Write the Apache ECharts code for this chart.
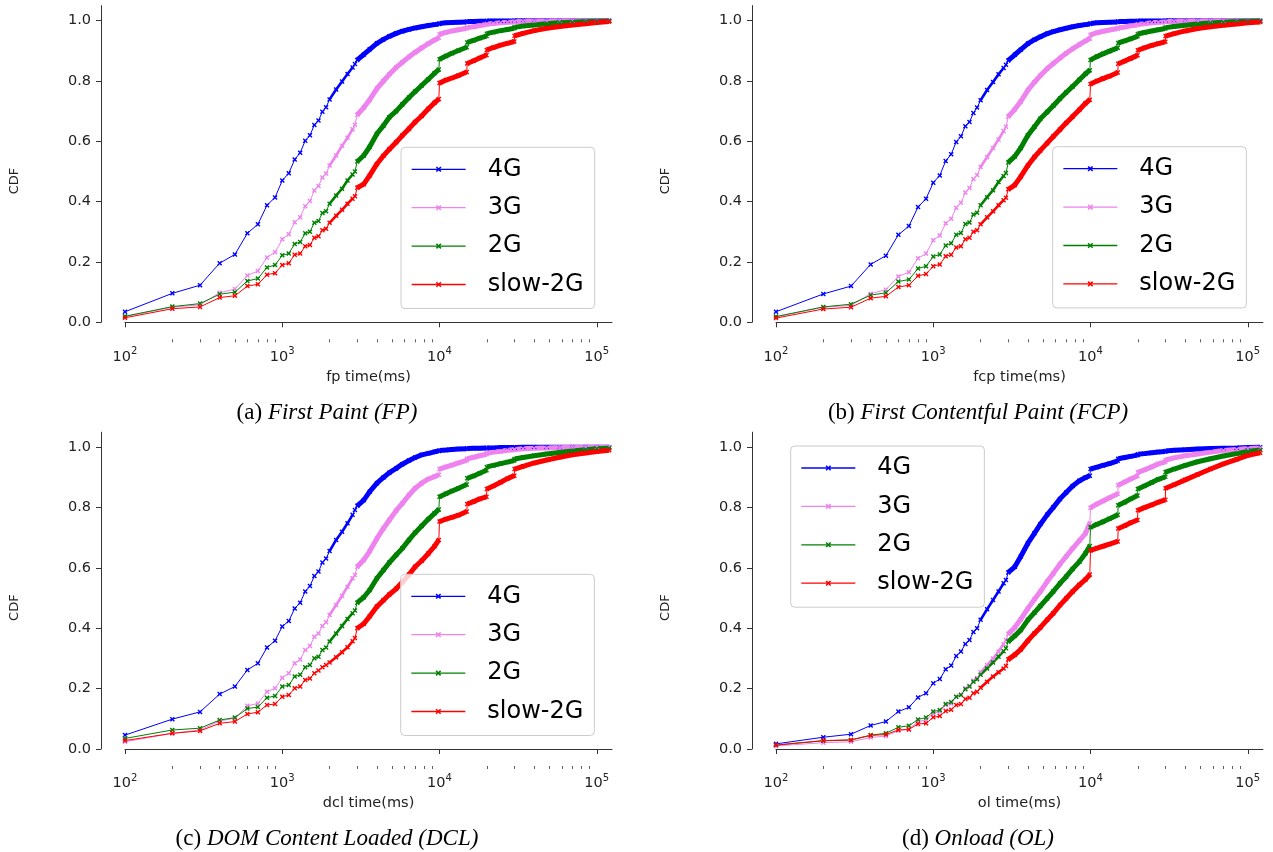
<!DOCTYPE html>
<html><head><meta charset="utf-8">
<script src="https://cdn.jsdelivr.net/npm/echarts@6/dist/echarts.min.js"></script>
<style>html,body{margin:0;padding:0;background:#fff}#chart{width:1273px;height:852px}</style>
</head><body><div id="chart"></div>
<script>
// ---------------- data ----------------
const xValues = [100,200,300,400,500,600,700,800,900,1000,
  1100,1200,1300,1400,1500,1600,1700,1800,1900,2000,
  2200,2400,2600,2800,2900,3000,3300,3600,4000,4400,
  4800,5300,5800,6400,7000,7700,8500,9300,9900,10000,
  11000,12000,13200,14900,15000,16500,18000,19900,20000,22000,
  24500,27000,29900,30000,34000,40000,48000,58000,70000,85000,
  100000,120000];

const seriesNames = ['4G','3G','2G','slow-2G'];
const axisNames = ['fp time(ms)','fcp time(ms)','dcl time(ms)','ol time(ms)'];
const captionTags = ['(a)','(b)','(c)','(d)'];
const captionTitles = ['First Paint (FP)','First Contentful Paint (FCP)','DOM Content Loaded (DCL)','Onload (OL)'];
const majorTickValues = [100,1000,10000,100000];
const minorTickValues = [200,300,400,500,600,700,800,900,2000,3000,4000,5000,6000,7000,8000,9000,20000,30000,40000,50000,60000,70000,80000,90000];
const yTickValues = [0,0.2,0.4,0.6,0.8,1.0];

const fp_4G = [.035,.096,.123,.196,.225,.295,.325,.388,.414,.470,
  .494,.540,.562,.602,.620,.654,.669,.698,.713,.739,
  .772,.798,.823,.845,.856,.870,.888,.905,.925,.938,
  .948,.958,.965,.971,.976,.980,.984,.987,.989,.991,
  .993,.994,.995,.996,.997,.997,.998,.998,.999,.999,
  .999,.999,.999,1,1,1,1,1,1,1,1,1];
const fp_3G = [.019,.050,.058,.098,.110,.155,.170,.215,.232,.275,
  .292,.332,.348,.385,.402,.437,.452,.480,.493,.520,
  .553,.585,.612,.640,.655,.688,.712,.738,.775,.800,
  .822,.845,.862,.880,.895,.910,.924,.936,.943,.955,
  .961,.966,.970,.975,.977,.980,.984,.987,.989,.991,
  .993,.995,.996,.997,.998,.999,.999,1,1,1,1,1];
const fp_2G = [.020,.052,.062,.093,.100,.137,.145,.182,.190,.222,
  .228,.260,.266,.295,.300,.330,.336,.362,.368,.393,
  .420,.443,.470,.490,.500,.533,.553,.582,.625,.652,
  .680,.700,.722,.745,.765,.785,.806,.826,.838,.872,
  .883,.892,.901,.912,.928,.935,.942,.949,.957,.962,
  .967,.971,.975,.978,.982,.986,.990,.993,.995,.997,.998,.999];
const fp_slow2G = [.015,.045,.051,.082,.088,.120,.126,.158,.163,.190,
  .196,.224,.228,.252,.256,.280,.285,.305,.310,.330,
  .353,.373,.393,.410,.418,.446,.458,.487,.525,.552,
  .574,.597,.619,.642,.664,.684,.708,.728,.740,.793,
  .803,.810,.818,.830,.858,.867,.876,.886,.903,.911,
  .919,.925,.931,.950,.958,.967,.975,.981,.986,.990,.994,.997];

const fcp_4G = [.035,.094,.120,.192,.221,.290,.319,.382,.410,.463,
  .487,.535,.557,.598,.617,.650,.664,.694,.712,.736,
  .770,.797,.822,.843,.854,.868,.887,.904,.924,.937,
  .947,.957,.964,.970,.975,.980,.984,.987,.989,.991,
  .993,.994,.995,.996,.997,.997,.998,.998,.999,.999,
  .999,.999,.999,1,1,1,1,1,1,1,1,1];
const fcp_3G = [.018,.050,.056,.095,.108,.152,.166,.212,.228,.272,
  .288,.328,.343,.380,.396,.430,.445,.475,.488,.515,
  .548,.578,.606,.634,.648,.682,.706,.732,.770,.796,
  .818,.841,.858,.876,.892,.907,.921,.933,.941,.953,
  .960,.965,.969,.974,.976,.979,.983,.986,.988,.990,
  .993,.995,.996,.997,.998,.999,.999,1,1,1,1,1];
const fcp_2G = [.019,.051,.060,.090,.098,.135,.142,.178,.186,.218,
  .225,.255,.262,.290,.296,.326,.331,.357,.363,.388,
  .415,.438,.465,.485,.495,.530,.550,.578,.620,.648,
  .675,.697,.718,.742,.762,.782,.804,.824,.836,.870,
  .881,.890,.899,.910,.926,.933,.940,.948,.956,.961,
  .966,.970,.974,.977,.981,.985,.989,.992,.995,.997,.998,.999];
const fcp_slow2G = [.014,.044,.050,.080,.086,.117,.123,.154,.160,.186,
  .192,.219,.224,.248,.252,.275,.280,.300,.305,.325,
  .348,.368,.388,.405,.413,.441,.455,.483,.520,.548,
  .570,.594,.616,.639,.661,.682,.705,.726,.738,.790,
  .800,.808,.816,.828,.857,.866,.875,.885,.902,.910,
  .918,.924,.930,.949,.957,.966,.974,.980,.985,.989,.993,.996];

const dcl_4G = [.046,.099,.123,.182,.207,.262,.284,.336,.359,.406,
  .424,.466,.485,.522,.540,.573,.588,.618,.631,.656,
  .693,.720,.748,.776,.792,.806,.825,.853,.881,.900,
  .916,.930,.944,.956,.966,.975,.980,.985,.988,.989,
  .991,.993,.994,.995,.996,.997,.997,.998,.998,.998,
  .999,.999,.999,.999,1,1,1,1,1,1,1,1];
const dcl_3G = [.024,.052,.063,.093,.102,.143,.151,.190,.201,.236,
  .251,.284,.297,.328,.341,.372,.383,.408,.420,.444,
  .477,.508,.538,.566,.577,.604,.627,.656,.698,.731,
  .759,.790,.814,.842,.864,.881,.895,.903,.909,.928,
  .935,.941,.948,.957,.962,.967,.972,.977,.980,.984,
  .987,.990,.992,.993,.995,.997,.998,.999,1,1,1,1];
const dcl_2G = [.035,.063,.069,.096,.104,.134,.139,.170,.176,.207,
  .212,.240,.246,.271,.278,.301,.306,.328,.336,.356,
  .383,.408,.431,.450,.459,.485,.503,.527,.566,.593,
  .618,.643,.665,.693,.717,.739,.762,.781,.794,.836,
  .846,.855,.864,.877,.897,.905,.914,.924,.935,.940,
  .946,.951,.956,.961,.966,.972,.978,.983,.988,.992,.995,.997];
const dcl_slow2G = [.028,.052,.060,.085,.091,.116,.122,.146,.149,.173,
  .179,.201,.207,.229,.234,.251,.260,.271,.278,.287,
  .304,.321,.337,.357,.368,.400,.415,.440,.472,.493,
  .512,.531,.553,.578,.604,.624,.648,.672,.693,.754,
  .762,.768,.775,.787,.812,.820,.829,.836,.862,.872,
  .884,.896,.906,.928,.937,.948,.958,.967,.975,.981,.986,.990];

const ol_4G = [.017,.039,.049,.078,.091,.124,.138,.171,.185,.218,
  .232,.264,.277,.308,.323,.348,.361,.388,.400,.428,
  .463,.494,.522,.549,.560,.585,.604,.638,.682,.715,
  .745,.776,.801,.829,.850,.872,.889,.900,.906,.928,
  .934,.940,.946,.955,.962,.966,.970,.974,.977,.979,
  .982,.984,.986,.988,.990,.992,.994,.996,.997,.998,.999,1];
const ol_3G = [.010,.021,.024,.038,.043,.061,.066,.091,.096,.118,
  .124,.146,.151,.173,.181,.201,.210,.227,.235,.254,
  .278,.300,.323,.348,.361,.381,.403,.430,.466,.496,
  .522,.555,.582,.613,.638,.665,.691,.715,.748,.800,
  .812,.822,.833,.846,.874,.885,.895,.905,.917,.925,
  .935,.945,.952,.958,.965,.972,.978,.984,.989,.993,.996,.998];
const ol_2G = [.013,.027,.030,.046,.052,.072,.077,.098,.104,.124,
  .129,.149,.156,.173,.179,.198,.207,.223,.231,.246,
  .267,.287,.306,.324,.334,.356,.375,.394,.428,.452,
  .474,.499,.522,.549,.571,.597,.621,.649,.673,.735,
  .745,.753,.763,.776,.808,.818,.829,.840,.862,.872,
  .883,.894,.902,.918,.928,.940,.952,.962,.971,.979,.986,.991];
const ol_slow2G = [.013,.028,.030,.045,.048,.063,.065,.083,.085,.105,
  .109,.126,.130,.146,.149,.166,.170,.185,.190,.203,
  .223,.240,.254,.267,.275,.297,.312,.330,.359,.383,
  .403,.428,.450,.477,.499,.522,.544,.562,.578,.658,
  .666,.672,.679,.688,.731,.740,.750,.759,.791,.800,
  .809,.818,.826,.864,.876,.892,.910,.928,.945,.960,.973,.982];

const panelData = [
  [fp_4G, fp_3G, fp_2G, fp_slow2G],
  [fcp_4G, fcp_3G, fcp_2G, fcp_slow2G],
  [dcl_4G, dcl_3G, dcl_2G, dcl_slow2G],
  [ol_4G, ol_3G, ol_2G, ol_slow2G]
];

// ---------------- styling / layout ----------------
const colors = ['#0000ff', '#ee82ee', '#008000', '#ff0000'];
const FONT = '"DejaVu Sans", sans-serif';
const SERIF = '"Liberation Serif", "Times New Roman", serif';
const xMarker = 'path://M2,0L5,3L8,0L10,2L7,5L10,8L8,10L5,7L2,10L0,8L3,5L0,2Z';
const gridBoxes = [
  {left: 125, top: 5.6, width: 487, height: 316.7},
  {left: 776, top: 5.6, width: 487, height: 316.7},
  {left: 125, top: 432.2, width: 487, height: 316.8},
  {left: 776, top: 432.2, width: 487, height: 316.8}
];
const legendPos = [[401, 147.3], [1052.7, 146.7], [400.7, 574.3], [790.7, 446]];
const captionPos = [[327, 412.7], [978, 412.7], [327, 838.5], [978, 838.5]];
const cdfPos = [[15, 181], [666, 181], [15, 607.6], [666, 607.6]];

// dense-marker look: the points of a curve within [lo, hi), broken at the sharp steps
function bandData(ys, lo, hi) {
  const out = [];
  for (let k = 0; k < xValues.length; k++) {
    if (xValues[k] < lo || xValues[k] >= hi) continue;
    if (out.length && xValues[k] - xValues[k - 1] === 100) out.push([xValues[k], null]);
    out.push([xValues[k], ys[k]]);
  }
  return out;
}

const grid = [], xAxis = [], yAxis = [], series = [], legend = [], graphic = [];
gridBoxes.forEach((g, i) => {
  grid.push(Object.assign({containLabel: false}, g));
  xAxis.push({
    type: 'log', logBase: 10, gridIndex: i, min: 100, max: 125000, position: 'bottom', offset: 17,
    name: axisNames[i], nameLocation: 'middle', nameGap: 30,
    nameTextStyle: {fontFamily: FONT, fontSize: 14.5, color: '#222'},
    axisLine: {show: true, lineStyle: {color: '#333', width: 1}},
    axisTick: {show: true, length: 5, lineStyle: {color: '#333', width: 1}, customValues: majorTickValues},
    axisLabel: {
      show: true, margin: 7, customValues: majorTickValues,
      formatter: v => {
        const e = Math.round(Math.log10(v));
        return '{b|10}{s|' + e + '}';
      },
      rich: {
        b: {fontFamily: FONT, fontSize: 14.5, color: '#222', lineHeight: 18, verticalAlign: 'bottom'},
        s: {fontFamily: FONT, fontSize: 10, color: '#222', lineHeight: 10, verticalAlign: 'top'}
      }
    },
    splitLine: {show: false}, minorTick: {show: false}
  });
  xAxis.push({
    type: 'log', logBase: 10, gridIndex: i, min: 100, max: 125000, position: 'bottom', offset: 17,
    axisLine: {show: false},
    axisTick: {show: true, length: 3, lineStyle: {color: '#333', width: 0.8}, customValues: minorTickValues},
    axisLabel: {show: false}, splitLine: {show: false}
  });
  yAxis.push({
    type: 'value', gridIndex: i, min: 0, max: 1.05, position: 'left', offset: 24,
    axisLine: {show: true, lineStyle: {color: '#333', width: 1}},
    axisTick: {show: true, length: 5, lineStyle: {color: '#333', width: 1}, customValues: yTickValues},
    axisLabel: {show: true, margin: 10, customValues: yTickValues, fontFamily: FONT, fontSize: 14.5, color: '#222',
      formatter: v => (v > 1.0001 ? '' : v.toFixed(1))},
    splitLine: {show: false}
  });
  panelData[i].forEach((ys, j) => {
    series.push({
      type: 'line', name: seriesNames[j], xAxisIndex: 2 * i, yAxisIndex: i,
      data: xValues.map((x, k) => [x, ys[k]]),
      symbol: xMarker, symbolSize: 5, showSymbol: true, showAllSymbol: true,
      color: colors[j], itemStyle: {color: colors[j]},
      lineStyle: {color: colors[j], width: 1}, silent: true, animation: false
    });
    series.push({
      type: 'line', name: seriesNames[j], xAxisIndex: 2 * i, yAxisIndex: i,
      data: bandData(ys, 2000, 3000), symbol: 'none', connectNulls: false,
      color: colors[j], lineStyle: {color: colors[j], width: 2.6}, silent: true, animation: false
    });
    series.push({
      type: 'line', name: seriesNames[j], xAxisIndex: 2 * i, yAxisIndex: i,
      data: bandData(ys, 3000, Infinity), symbol: 'none', connectNulls: false,
      color: colors[j], lineStyle: {color: colors[j], width: 5}, silent: true, animation: false
    });
  });
  legend.push({
    data: seriesNames, orient: 'vertical', left: legendPos[i][0], top: legendPos[i][1],
    itemWidth: 54, itemHeight: 7, itemGap: 14.4, padding: [10, 11, 12, 10],
    backgroundColor: 'rgba(255,255,255,0.8)', borderColor: '#cccccc', borderWidth: 1, borderRadius: 4,
    lineStyle: {width: 1.3},
    textStyle: {fontFamily: FONT, fontSize: 24, color: '#000', lineHeight: 24, padding: [0, 0, 0, 17]},
    selectedMode: false
  });
  graphic.push({
    type: 'text', x: cdfPos[i][0], y: cdfPos[i][1], rotation: Math.PI / 2,
    style: {text: 'CDF', fontFamily: FONT, fontSize: 13, fill: '#222', align: 'center', verticalAlign: 'middle'}
  });
  graphic.push({
    type: 'text', x: captionPos[i][0], y: captionPos[i][1],
    style: {
      text: '{n|' + captionTags[i] + '} {it|' + captionTitles[i] + '}',
      fontFamily: SERIF, fontSize: 23, fill: '#000', align: 'center', verticalAlign: 'middle',
      rich: {
        n: {fontFamily: SERIF, fontSize: 23, fill: '#000'},
        it: {fontFamily: SERIF, fontSize: 23, fontStyle: 'italic', fill: '#000'}
      }
    }
  });
});

const chart = echarts.init(document.getElementById('chart'), null, {renderer: 'canvas'});
chart.setOption({
  backgroundColor: '#ffffff', animation: false,
  grid, xAxis, yAxis, series, legend, graphic
});
</script>
</body></html>
